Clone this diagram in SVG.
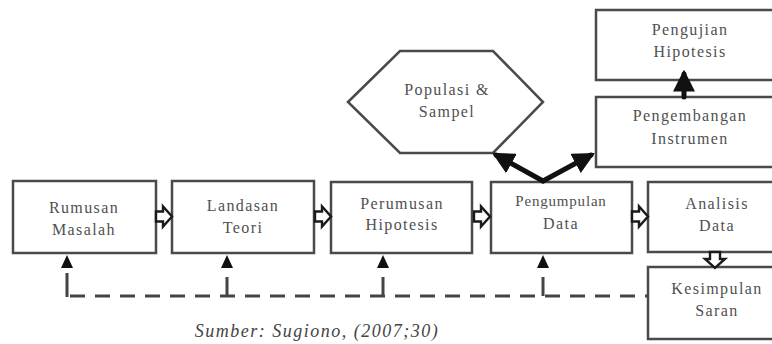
<svg xmlns="http://www.w3.org/2000/svg" width="772" height="344" viewBox="0 0 772 344">
<style>
.box{fill:#fff;stroke:#4a4a4a;stroke-width:2.5}
.t{font-family:"Liberation Serif","DejaVu Serif",serif;font-size:16px;letter-spacing:1.4px;fill:#505050;text-anchor:middle}
.hollow{fill:#fff;stroke:#1a1a1a;stroke-width:2.4;stroke-linejoin:miter}
.thick{stroke:#111;stroke-width:5;fill:none;stroke-linecap:round}
.dash{stroke:#444;stroke-width:3;fill:none;stroke-dasharray:15 10}
.head{fill:#111}
.cap{font-family:"Liberation Serif","DejaVu Serif",serif;font-style:italic;font-size:18px;letter-spacing:1.5px;fill:#444;text-anchor:middle}
</style>
<defs>
<path id="ha" d="M0,-5 H7 V-10 L16,0 L7,10 V5 H0 Z"/>
<marker id="ah" viewBox="0 0 10 10" refX="8" refY="5" markerWidth="22" markerHeight="22" markerUnits="userSpaceOnUse" orient="auto">
<path d="M0,0 L10,5 L0,10 Z" fill="#111"/>
</marker>
</defs>

<g id="n-rumusan"><rect class="box" x="13" y="181" width="143" height="72"/><text class="t" x="84" y="213">Rumusan</text><text class="t" x="84" y="235">Masalah</text></g>
<g id="n-landasan"><rect class="box" x="172" y="181" width="142" height="72"/><text class="t" x="243" y="211">Landasan</text><text class="t" x="243" y="233">Teori</text></g>
<g id="n-perumusan"><rect class="box" x="331" y="182" width="141" height="71"/><text class="t" x="402" y="209">Perumusan</text><text class="t" x="402" y="230">Hipotesis</text></g>
<g id="n-pengumpulan"><rect class="box" x="491" y="182" width="141" height="71"/><text class="t" x="561" y="206" style="font-size:15px;letter-spacing:0.8px">Pengumpulan</text><text class="t" x="561" y="229">Data</text></g>
<g id="n-analisis"><rect class="box" x="648" y="182" width="140" height="70"/><text class="t" x="717" y="209">Analisis</text><text class="t" x="717" y="231">Data</text></g>
<g id="n-kesimpulan"><rect class="box" x="648" y="267" width="140" height="72"/><text class="t" x="717" y="294">Kesimpulan</text><text class="t" x="717" y="316">Saran</text></g>
<g id="n-pengujian"><rect class="box" x="596" y="10" width="190" height="70"/><text class="t" x="690" y="35">Pengujian</text><text class="t" x="690" y="57">Hipotesis</text></g>
<g id="n-pengembangan"><rect class="box" x="596" y="97" width="190" height="70"/><text class="t" x="690" y="121">Pengembangan</text><text class="t" x="690" y="144">Instrumen</text></g>
<g id="n-populasi"><polygon class="box" points="348,102 400,51 493,51 543,102 493,153 400,153"/><text class="t" x="447" y="95">Populasi &amp;</text><text class="t" x="447" y="117">Sampel</text></g>

<g id="connectors">
<use href="#ha" class="hollow" transform="translate(156,216.5)"/>
<use href="#ha" class="hollow" transform="translate(315,216.5)"/>
<use href="#ha" class="hollow" transform="translate(474,216.5)"/>
<use href="#ha" class="hollow" transform="translate(632,216.5)"/>
<use href="#ha" class="hollow" transform="translate(715,252) rotate(90)"/>
<line class="thick" x1="543" y1="181" x2="496" y2="155" marker-end="url(#ah)"/>
<line class="thick" x1="543" y1="181" x2="591" y2="155" marker-end="url(#ah)"/>
<line class="thick" x1="684" y1="97" x2="684" y2="74" marker-end="url(#ah)"/>
<path class="dash" d="M67,296 H648" stroke-dashoffset="-3"/>
<path stroke="#444" stroke-width="3" d="M67,273 V297 M227,277 V296 M383,277 V296 M543,277 V296"/>
<path class="head" d="M67,255 L73,268 L61,268 Z M227,255 L233,268 L221,268 Z M383,255 L389,268 L377,268 Z M543,255 L549,268 L537,268 Z"/>
</g>
<text class="cap" x="317" y="337">Sumber: Sugiono, (2007;30)</text>
</svg>
